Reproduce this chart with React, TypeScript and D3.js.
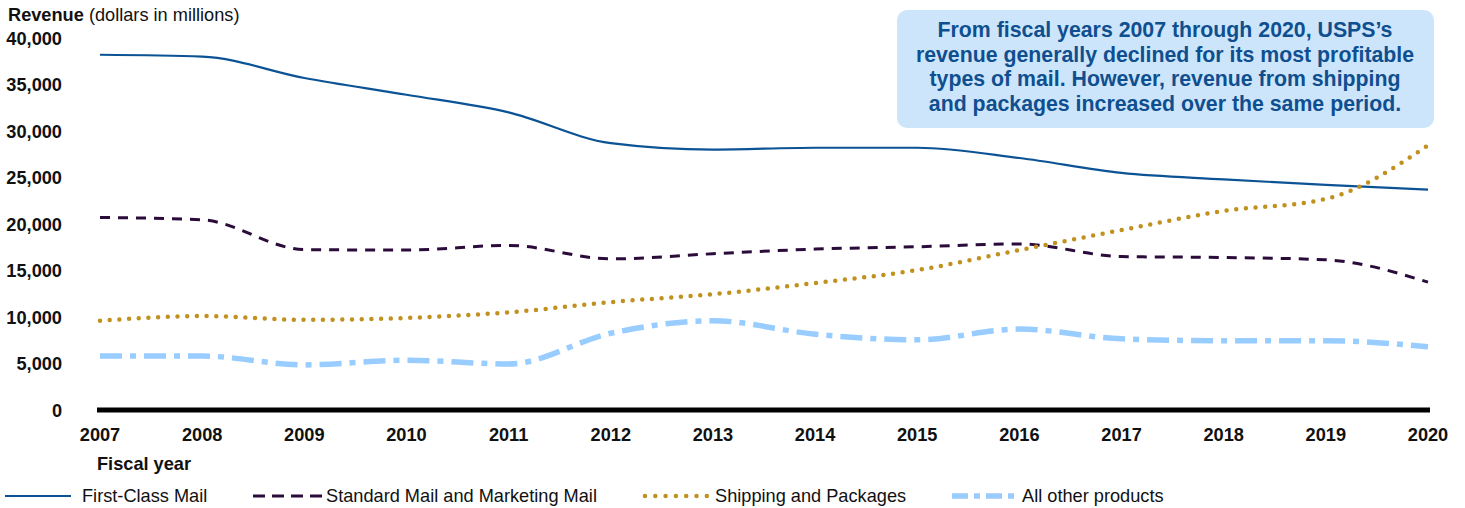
import React from "react";
import * as d3 from "d3";

const years = [2007, 2008, 2009, 2010, 2011, 2012, 2013, 2014, 2015, 2016, 2017, 2018, 2019, 2020];
const firstClass = [38200, 38000, 35700, 33900, 32000, 28700, 28000, 28200, 28200, 27100, 25500, 24800, 24200, 23700];
const standardMail = [20700, 20450, 17250, 17200, 17700, 16250, 16800, 17300, 17550, 17850, 16500, 16400, 16150, 13750];
const shipping = [9600, 10100, 9700, 9900, 10500, 11600, 12450, 13650, 15050, 17200, 19350, 21400, 22700, 28450];
const allOther = [5800, 5800, 4850, 5350, 4950, 8250, 9600, 8150, 7550, 8700, 7650, 7450, 7450, 6800];
const yTicks = [0, 5000, 10000, 15000, 20000, 25000, 30000, 35000, 40000];
const annotationLines = [
  "From fiscal years 2007 through 2020, USPS\u2019s",
  "revenue generally declined for its most profitable",
  "types of mail. However, revenue from shipping",
  "and packages increased over the same period.",
];

const series = [
  { name: "First-Class Mail", values: firstClass, color: "#0b5394", width: 2.2, dash: "", legendDash: "", cap: "butt" },
  { name: "Standard Mail and Marketing Mail", values: standardMail, color: "#2b0b3a", width: 3, dash: "10,8", legendDash: "12,7", cap: "butt" },
  { name: "Shipping and Packages", values: shipping, color: "#c0911f", width: 4.5, dash: "0,9.7", legendDash: "0,10.3", cap: "round" },
  { name: "All other products", values: allOther, color: "#99ccff", width: 5.5, dash: "22,8,6,8", legendDash: "16,6,6,6", cap: "butt" },
];

const legendPos = [
  { x1: 5, x2: 71, tx: 82 },
  { x1: 253, x2: 322, tx: 326 },
  { x1: 645, x2: 707, tx: 715 },
  { x1: 952, x2: 1017, tx: 1022 },
];

export default function App() {
  const W = 1465, H = 508;
  const x = d3.scaleLinear().domain([2007, 2020]).range([100, 1428]);
  const y = d3.scaleLinear().domain([0, 40000]).range([410, 38]);
  const line = d3.line<number>()
    .x((_, i) => x(years[i]))
    .y((d) => y(d))
    .curve(d3.curveMonotoneX);
  const font = "'Liberation Sans', Arial, sans-serif";
  const fs = 18.2;

  return (
    <svg width={W} height={H} style={{ position: "absolute", left: 0, top: 0, fontFamily: font }}>
      <rect width={W} height={H} fill="#fff" />
      <text x={8} y={21} fontSize={fs} fill="#111">
        <tspan fontWeight="bold">Revenue</tspan>
        <tspan> (dollars in millions)</tspan>
      </text>
      {yTicks.map((t) => (
        <text key={t} x={62} y={y(t) + 6.5} textAnchor="end" fontSize={fs} fontWeight="bold" fill="#111">
          {d3.format(",")(t)}
        </text>
      ))}
      {years.map((yr) => (
        <text key={yr} x={x(yr)} y={441} textAnchor="middle" fontSize={fs} fontWeight="bold" fill="#111">
          {yr}
        </text>
      ))}
      <text x={97} y={470} fontSize={fs} fontWeight="bold" fill="#111">Fiscal year</text>

      {series.map((s) => (
        <path key={s.name} d={line(s.values) || ""} fill="none" stroke={s.color} strokeWidth={s.width}
          strokeDasharray={s.dash || undefined} strokeLinecap={s.cap as any} />
      ))}
      <line x1={97} x2={1430} y1={y(0)} y2={y(0)} stroke="#000" strokeWidth={5} />

      <rect x={897} y={10} width={537} height={118} rx={10} fill="#cce5fb" />
      {annotationLines.map((l, i) => (
        <text key={i} x={1165} y={37 + i * 24.6} textAnchor="middle" fontSize={21.3} fontWeight="bold" fill="#0f4f8f">
          {l}
        </text>
      ))}

      {series.map((s, i) => (
        <g key={s.name}>
          <line x1={legendPos[i].x1} x2={legendPos[i].x2} y1={496} y2={496} stroke={s.color}
            strokeWidth={s.width} strokeDasharray={s.legendDash || undefined} strokeLinecap={s.cap as any} />
          <text x={legendPos[i].tx} y={502} fontSize={fs} fill="#111">{s.name}</text>
        </g>
      ))}
    </svg>
  );
}
